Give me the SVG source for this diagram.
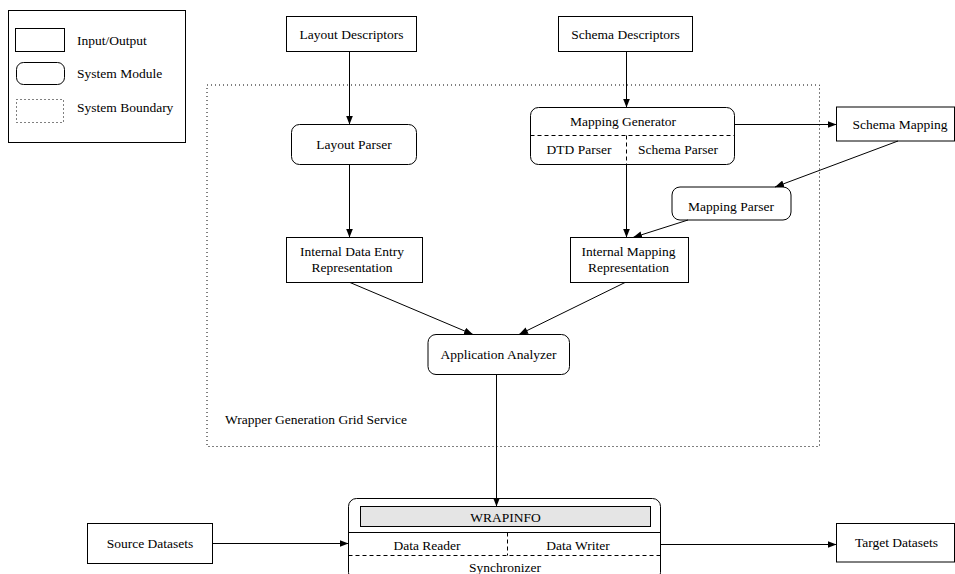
<svg xmlns="http://www.w3.org/2000/svg" width="955" height="574" viewBox="0 0 955 574">
<style>
text{font-family:"Liberation Serif","Times New Roman",serif;font-size:13.5px;fill:#000;}
.c{text-anchor:middle;}
.io{fill:#fff;stroke:#000;stroke-width:1;}
.mod{fill:#fff;stroke:#000;stroke-width:1;}
.dash{stroke:#000;stroke-width:1;stroke-dasharray:4,3;fill:none;}
.dot{fill:none;stroke:#000;stroke-width:1;stroke-dasharray:1,3;}
.conn line{stroke:#000;stroke-width:1;marker-end:url(#ah);}
</style>
<defs>
<marker id="ah" markerUnits="userSpaceOnUse" markerWidth="10" markerHeight="7" refX="9" refY="3.5" orient="auto">
<path d="M0,0 L9,3.5 L0,7 z" fill="#000"/>
</marker>
</defs>
<rect width="955" height="574" fill="#fff"/>

<g id="legend">
<rect x="8.5" y="10.5" width="177" height="132" fill="none" stroke="#000"/>
<rect x="15.5" y="28.5" width="49" height="23" class="io"/>
<text x="77" y="45">Input/Output</text>
<rect x="16.5" y="62.5" width="48" height="22" rx="7" class="mod"/>
<text x="77" y="78">System Module</text>
<rect x="16.5" y="99.5" width="47" height="23" class="dot"/>
<text x="77" y="112">System Boundary</text>
</g>

<g id="boundary">
<rect x="207" y="85" width="612.5" height="361.5" class="dot"/>
<text x="225" y="424">Wrapper Generation Grid Service</text>
</g>

<g id="layout-descriptors">
<rect x="286.5" y="16.5" width="130" height="35" class="io"/>
<text x="351.5" y="38.5" class="c">Layout Descriptors</text>
</g>

<g id="schema-descriptors">
<rect x="558.5" y="16.5" width="134" height="35" class="io"/>
<text x="625.5" y="38.5" class="c">Schema Descriptors</text>
</g>

<g id="layout-parser">
<rect x="291.5" y="124.5" width="125" height="40" rx="8" class="mod"/>
<text x="354" y="149" class="c">Layout Parser</text>
</g>

<g id="mapping-generator">
<rect x="530.5" y="107.5" width="204" height="57" rx="8" class="mod"/>
<line x1="530.5" y1="135.5" x2="734.5" y2="135.5" class="dash"/>
<line x1="626.5" y1="135.5" x2="626.5" y2="164.5" class="dash"/>
<text x="623" y="126" class="c">Mapping Generator</text>
<text x="579" y="153.5" class="c">DTD Parser</text>
<text x="678" y="153.5" class="c">Schema Parser</text>
</g>

<g id="schema-mapping">
<rect x="836.5" y="107" width="118" height="34" class="io"/>
<text x="900" y="128.5" class="c">Schema Mapping</text>
</g>

<g id="mapping-parser">
<rect x="672" y="187" width="119" height="33" rx="8" class="mod"/>
<text x="731" y="210.5" class="c">Mapping Parser</text>
</g>

<g id="internal-data-entry">
<rect x="286.5" y="237.5" width="136" height="45" class="io"/>
<text x="352" y="256" class="c">Internal Data Entry</text>
<text x="352" y="271.5" class="c">Representation</text>
</g>

<g id="internal-mapping">
<rect x="570.5" y="237.5" width="118" height="45" class="io"/>
<text x="628.5" y="256" class="c">Internal Mapping</text>
<text x="628.5" y="271.5" class="c">Representation</text>
</g>

<g id="application-analyzer">
<rect x="428" y="334.5" width="141.5" height="40" rx="8" class="mod"/>
<text x="498.5" y="358.5" class="c">Application Analyzer</text>
</g>

<g id="wrapinfo">
<rect x="348.5" y="498.5" width="312" height="82" rx="8" class="mod"/>
<rect x="360.5" y="506.5" width="290" height="20" fill="#e5e5e5" stroke="#000"/>
<text x="505.5" y="522" class="c">WRAPINFO</text>
<line x1="348.5" y1="532.5" x2="660.5" y2="532.5" stroke="#000"/>
<line x1="348.5" y1="555.5" x2="660.5" y2="555.5" class="dash"/>
<line x1="507.5" y1="532.5" x2="507.5" y2="555.5" class="dash"/>
<text x="427" y="549.5" class="c">Data Reader</text>
<text x="578" y="549.5" class="c">Data Writer</text>
<text x="505" y="571.5" class="c">Synchronizer</text>
</g>

<g id="source-datasets">
<rect x="87.5" y="523.5" width="125" height="40" class="io"/>
<text x="150" y="547.5" class="c">Source Datasets</text>
</g>

<g id="target-datasets">
<rect x="836.5" y="523.5" width="118" height="38.5" class="io"/>
<text x="896.5" y="546.5" class="c">Target Datasets</text>
</g>

<g id="connectors" class="conn">
<line x1="349.5" y1="51.5" x2="349.5" y2="124.5"/>
<line x1="626.5" y1="51.5" x2="626.5" y2="107.5"/>
<line x1="734.5" y1="124.5" x2="836.5" y2="124.5"/>
<line x1="898" y1="141" x2="775" y2="187"/>
<line x1="349.5" y1="164.5" x2="349.5" y2="237.5"/>
<line x1="626.5" y1="164.5" x2="626.5" y2="237.5"/>
<line x1="688" y1="220" x2="633" y2="237.5"/>
<line x1="350" y1="282.5" x2="473" y2="334.5"/>
<line x1="625" y1="282.5" x2="519" y2="334.5"/>
<line x1="496.5" y1="374.5" x2="496.5" y2="506.5"/>
<line x1="212.5" y1="543.5" x2="348.5" y2="543.5"/>
<line x1="660.5" y1="544.5" x2="836.5" y2="544.5"/>
</g>
</svg>
